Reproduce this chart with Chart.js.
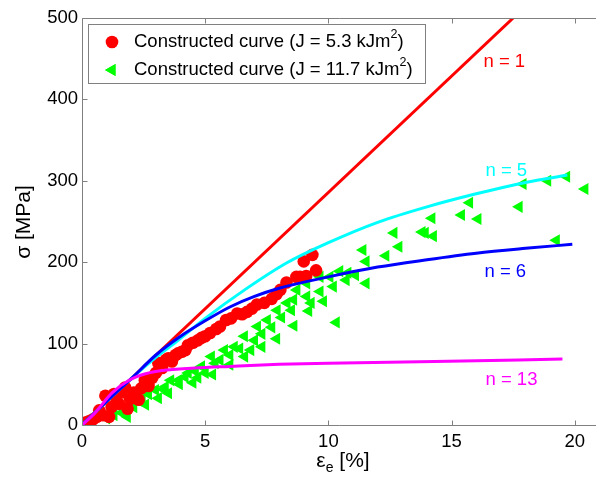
<!DOCTYPE html>
<html>
<head>
<meta charset="utf-8">
<script src="https://cdn.jsdelivr.net/npm/chart.js@4.4.0/dist/chart.umd.min.js"></script>
<style>
html, body { margin: 0; padding: 0; background: #fff; overflow: hidden; }
#wrap { position: relative; width: 601px; height: 483px; }
</style>
</head>
<body>
<div id="wrap"><canvas id="stressChart"></canvas></div>
<script>
/* DATA */
var xTicks = [0, 5, 10, 15, 20];
var yTicks = [0, 100, 200, 300, 400, 500];

// model curves, strain [%] vs stress [MPa]
var curveN1 = [[0, 0], [17.5, 500]];
var curveN5 = [[0, 0], [1, 29], [2, 57], [3, 83], [3.9, 104], [5, 131], [6.6, 166], [8.3, 199], [10, 224], [12, 249], [14, 268], [16, 284], [18, 298], [19.7, 307]];
var curveN6 = [[0, 0], [1, 29], [2, 57], [3, 86], [4, 109], [5, 128], [6, 145], [7, 158], [8, 168], [10, 182], [12, 194], [14, 203], [16, 211], [18, 217], [19.9, 222]];
var curveN13 = [[0, 0], [0.5, 14], [1.24, 40], [1.91, 55], [2.58, 63], [3.25, 67], [4.58, 70], [6, 72], [8, 74.5], [10, 76], [14.3, 78], [19.5, 81]];

// constructed points, J = 5.3 kJm2
var pointsJ53 = [
  [0.15, 3], [0.3, 5], [0.45, 7], [0.6, 10], [0.7, 18], [0.85, 12], [0.95, 36], [1.1, 10], [1.2, 22], [1.3, 38],
  [1.4, 28], [1.5, 26], [1.6, 40], [1.75, 46], [1.85, 20], [1.95, 32], [2.1, 40], [2.2, 36], [2.3, 31], [2.4, 45],
  [2.55, 55], [2.7, 48], [2.85, 58], [3.0, 64], [3.1, 76], [3.25, 70], [3.4, 80], [3.5, 82], [3.65, 78], [3.8, 86],
  [3.9, 88], [4.05, 90], [4.2, 92], [4.3, 98], [4.5, 101], [4.7, 104], [4.85, 107], [5.0, 109], [5.2, 113], [5.45, 118],
  [5.6, 121], [5.85, 129], [6.05, 131], [6.3, 137], [6.5, 136], [6.7, 139], [6.9, 143], [7.1, 148], [7.4, 150], [7.7, 155],
  [7.9, 161], [8.05, 166], [8.3, 175], [8.7, 182], [8.85, 182], [9.0, 201], [9.1, 183], [9.35, 209], [9.5, 190]
];

// constructed points, J = 11.7 kJm2
var pointsJ117 = [
  [1.0, 8], [1.3, 12], [1.6, 15], [1.84, 10], [2.1, 22], [2.3, 30], [2.44, 31], [2.58, 25], [2.7, 38], [2.98, 43],
  [3.1, 33], [3.3, 44], [3.38, 47], [3.51, 39], [3.6, 55], [3.91, 55], [3.95, 50], [4.18, 59], [4.31, 64], [4.5, 52],
  [4.6, 66], [4.7, 58], [4.85, 72], [5.0, 64], [5.25, 84], [5.3, 62], [5.4, 76], [5.6, 80], [5.78, 92], [6.0, 74],
  [6.0, 86], [6.18, 96], [6.4, 94], [6.59, 109], [6.6, 84], [6.85, 92], [7.0, 104], [7.12, 121], [7.3, 96], [7.3, 112],
  [7.52, 129], [7.7, 120], [7.9, 106], [7.92, 141], [8.1, 132], [8.32, 150], [8.5, 141], [8.59, 154], [8.6, 122], [8.72, 166],
  [9.12, 158], [9.12, 174], [9.2, 140], [9.3, 150], [9.66, 164], [9.66, 182], [9.8, 152], [10.06, 182], [10.2, 170], [10.32, 126],
  [10.46, 189], [10.72, 178], [10.79, 187], [11.1, 184], [11.4, 215], [11.53, 174], [11.53, 201], [12.33, 208], [12.66, 236], [12.86, 219],
  [13.8, 237], [13.93, 236], [14.26, 232], [14.2, 254], [15.4, 258], [15.73, 273], [16.07, 253], [17.74, 268], [17.9, 296], [18.9, 300],
  [19.25, 227], [19.67, 305], [20.41, 290]
];

var legendLabels = ['Constructed curve (J = 5.3 kJm', 'Constructed curve (J = 11.7 kJm'];

var FONT = "'Liberation Sans', Arial, sans-serif";
var AXIS_GRAY = '#808080';

function toXY(arr) {
  return arr.map(function(p) { return { x: p[0], y: p[1] }; });
}

function curveSet(arr, color) {
  return {
    data: toXY(arr), showLine: true, borderColor: color, backgroundColor: color,
    borderWidth: 3, pointRadius: 0, cubicInterpolationMode: 'monotone'
  };
}

/* FRAME, TICKS, TITLES, LEGEND */
var decorations = {
  id: 'decorations',
  afterDatasetsDraw: function(chart) {
    var ctx = chart.ctx, a = chart.chartArea;
    var xs = chart.scales.x, ys = chart.scales.y;
    var left = Math.round(a.left) + 0.5, top = Math.round(a.top) + 0.5, bottom = Math.round(a.bottom) + 0.5;
    ctx.save();

    // left, top and bottom frame (right side runs off the canvas) with inward ticks
    ctx.strokeStyle = AXIS_GRAY;
    ctx.lineWidth = 1;
    ctx.beginPath();
    ctx.moveTo(a.right + 2, top); ctx.lineTo(left, top);
    ctx.lineTo(left, bottom); ctx.lineTo(a.right + 2, bottom);
    xTicks.forEach(function(v) {
      var px = Math.round(xs.getPixelForValue(v)) + 0.5;
      ctx.moveTo(px, bottom); ctx.lineTo(px, bottom - 5);
      ctx.moveTo(px, top); ctx.lineTo(px, top + 5);
    });
    yTicks.forEach(function(v) {
      var py = Math.round(ys.getPixelForValue(v)) + 0.5;
      ctx.moveTo(left, py); ctx.lineTo(left + 5, py);
    });
    ctx.stroke();

    // curve labels
    ctx.font = '18.5px ' + FONT;
    ctx.textAlign = 'center';
    ctx.textBaseline = 'middle';
    [['n = 1', 17.14, 446, '#ff0000'], ['n = 5', 17.22, 312, '#00ffff'],
     ['n = 6', 17.18, 188, '#0000ff'], ['n = 13', 17.43, 55, '#ff00ff']].forEach(function(l) {
      ctx.fillStyle = l[3];
      ctx.fillText(l[0], xs.getPixelForValue(l[1]), ys.getPixelForValue(l[2]));
    });

    // axis titles
    var big = '18.5px ' + FONT, small = '12.5px ' + FONT;
    var title = '21px ' + FONT, titleSub = '14px ' + FONT;
    ctx.fillStyle = '#000';
    ctx.save();
    ctx.translate(24, 222);
    ctx.rotate(-Math.PI / 2);
    ctx.font = title;
    ctx.fillText('\u03c3 [MPa]', 0, 0);
    ctx.restore();

    ctx.textAlign = 'left';
    ctx.font = title;
    var wEps = ctx.measureText('\u03b5').width;
    var wRest = ctx.measureText(' [%]').width;
    ctx.font = titleSub;
    var wSub = ctx.measureText('e').width;
    var x0 = 343 - (wEps + wSub + wRest) / 2, yT = 461;
    ctx.font = title; ctx.fillText('\u03b5', x0, yT);
    ctx.font = titleSub; ctx.fillText('e', x0 + wEps, yT + 7);
    ctx.font = title; ctx.fillText(' [%]', x0 + wEps + wSub, yT);

    // legend
    ctx.fillStyle = '#fff';
    ctx.fillRect(88, 24, 337, 59);
    ctx.strokeStyle = AXIS_GRAY;
    ctx.strokeRect(88.5, 24.5, 337, 59);
    ctx.fillStyle = '#ff0000';
    ctx.beginPath(); ctx.arc(112, 42, 6.3, 0, Math.PI * 2); ctx.fill();
    ctx.fillStyle = '#00ff00';
    Chart.helpers.drawPoint(ctx, { pointStyle: 'triangle', radius: 7, rotation: -90 }, 112, 70);
    ctx.fill();
    ctx.fillStyle = '#000';
    [[legendLabels[0], 42], [legendLabels[1], 70]].forEach(function(l) {
      var x = 134;
      ctx.font = big; ctx.fillText(l[0], x, l[1]);
      x += ctx.measureText(l[0]).width;
      ctx.font = small; ctx.fillText('2', x, l[1] - 7);
      x += ctx.measureText('2').width;
      ctx.font = big; ctx.fillText(')', x, l[1]);
    });

    ctx.restore();
  }
};

var ctx = document.getElementById('stressChart').getContext('2d');
var stressChart = new Chart(ctx, {
  type: 'scatter',
  data: {
    datasets: [
      curveSet(curveN13, '#ff00ff'),
      curveSet(curveN6, '#0000ff'),
      curveSet(curveN5, '#00ffff'),
      curveSet(curveN1, '#ff0000'),
      {
        data: toXY(pointsJ53), pointStyle: 'circle', pointRadius: 6.3,
        backgroundColor: '#ff0000', borderColor: '#ff0000', borderWidth: 0
      },
      {
        data: toXY(pointsJ117), pointStyle: 'triangle', pointRadius: 7, rotation: -90,
        backgroundColor: '#00ff00', borderColor: '#00ff00', borderWidth: 0
      }
    ]
  },
  options: {
    responsive: true,
    maintainAspectRatio: false,
    devicePixelRatio: 1,
    animation: false,
    layout: { padding: { top: 18, right: 0, left: 0, bottom: 0 } },
    plugins: { legend: { display: false }, tooltip: { enabled: false } },
    scales: {
      x: {
        type: 'linear', min: 0, max: 20.78,
        afterBuildTicks: function(s) { s.ticks = xTicks.map(function(v) { return { value: v }; }); },
        afterFit: function(s) { s.height = 58; s.paddingLeft = 0; s.paddingRight = 0; },
        grid: { display: false, drawTicks: false },
        border: { display: false },
        ticks: { color: '#000', padding: 6, font: { family: FONT, size: 18.5 }, maxRotation: 0 }
      },
      y: {
        type: 'linear', min: 0, max: 500,
        afterBuildTicks: function(s) { s.ticks = yTicks.map(function(v) { return { value: v }; }); },
        afterFit: function(s) { s.width = 82; s.paddingTop = 0; s.paddingBottom = 0; },
        grid: { display: false, drawTicks: false },
        border: { display: false },
        ticks: { color: '#000', padding: 4, font: { family: FONT, size: 18.5 } }
      }
    }
  },
  plugins: [decorations]
});
</script>
</body>
</html>
